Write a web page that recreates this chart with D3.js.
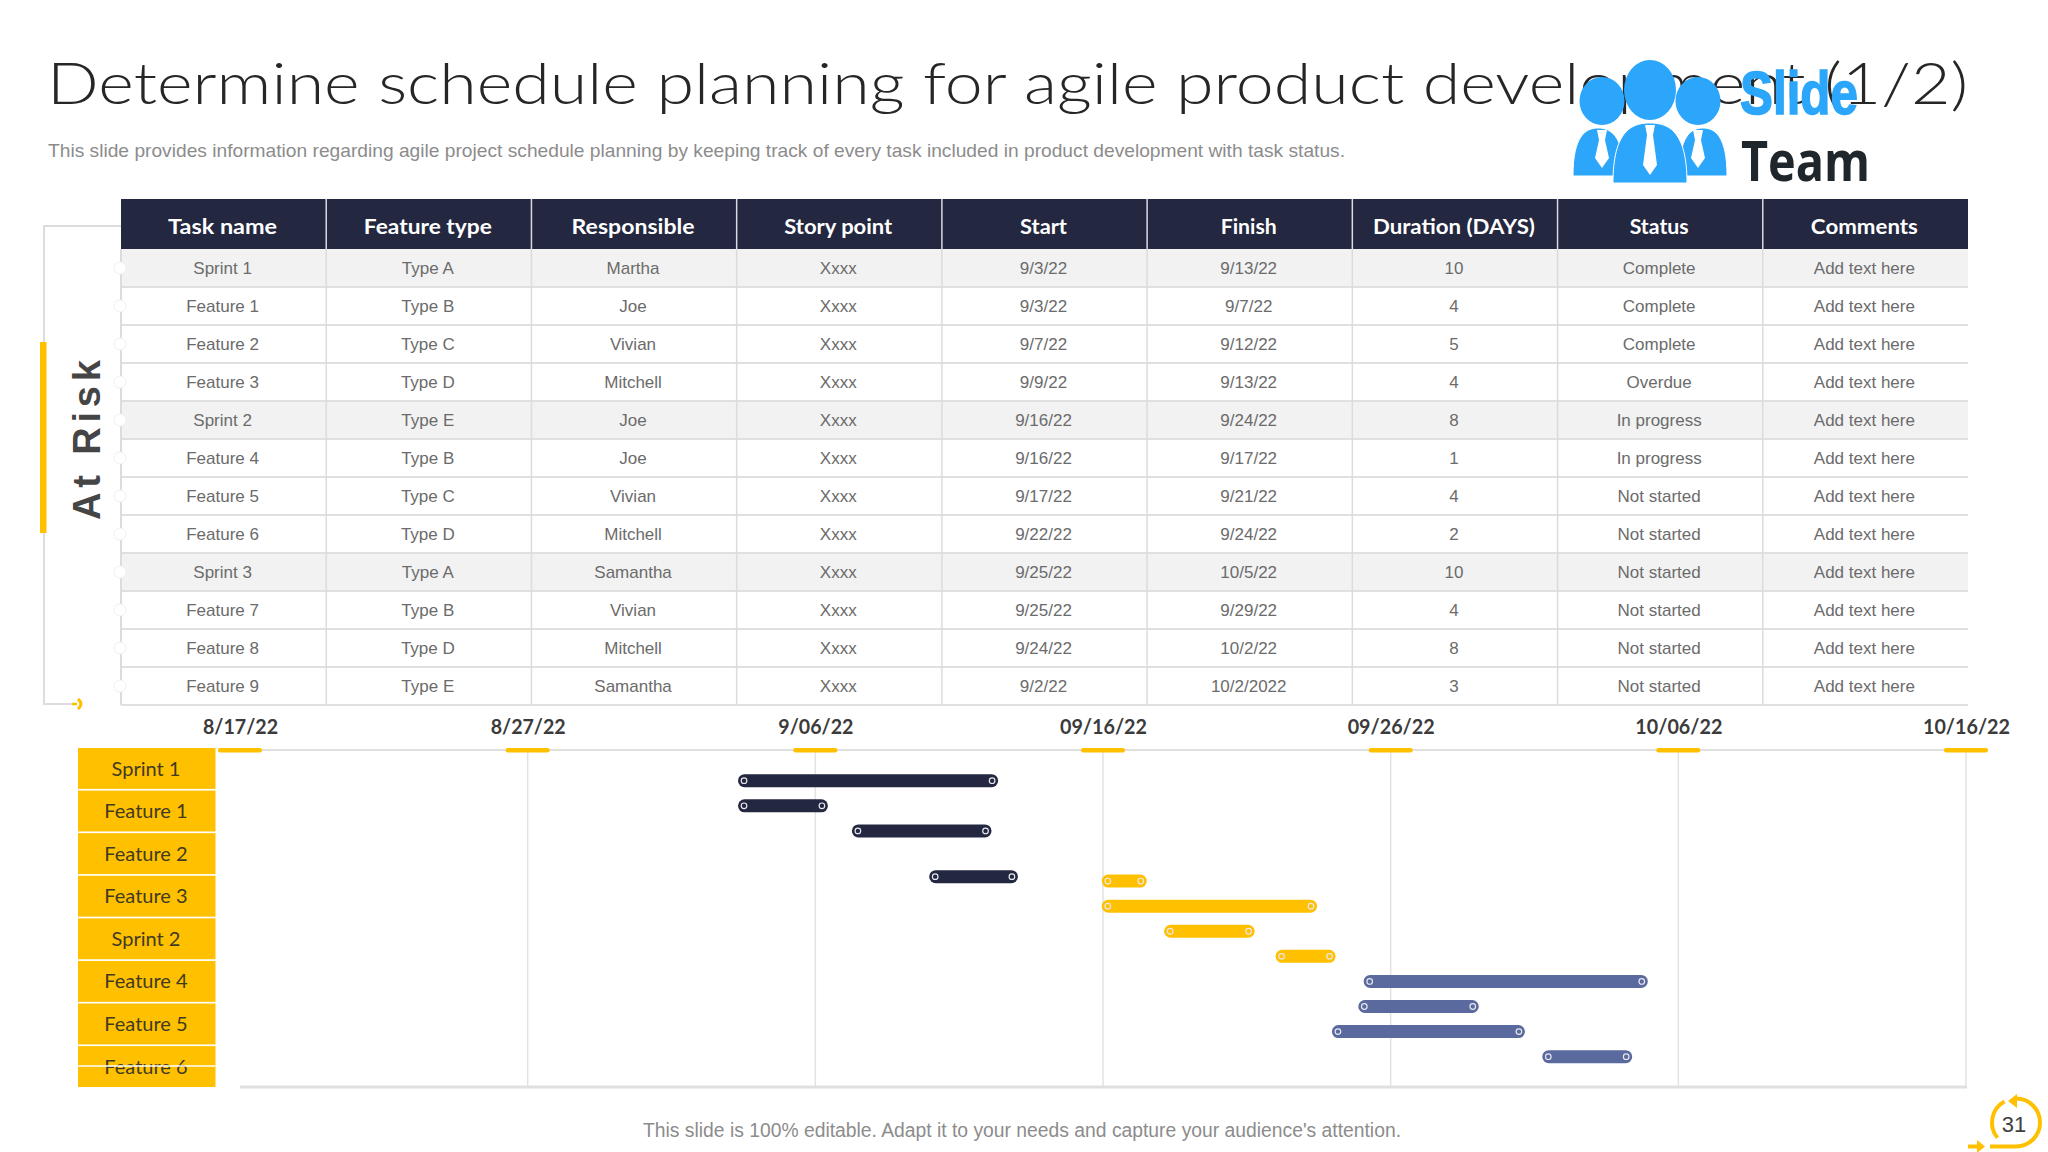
<!DOCTYPE html>
<html>
<head>
<meta charset="utf-8">
<title>Schedule planning</title>
<script src="https://cdn.jsdelivr.net/npm/d3@7"></script>
<style>
  body { margin: 0; background: #fff; }
  svg { display: block; }
  text { font-family: "Liberation Sans", sans-serif; }
</style>
</head>
<body>
<svg id="chart" width="2048" height="1152"></svg>
<script>
// Table columns
let headers = ['Task name', 'Feature type', 'Responsible', 'Story point', 'Start', 'Finish', 'Duration (DAYS)', 'Status', 'Comments'];
let tasks = ['Sprint 1', 'Feature 1', 'Feature 2', 'Feature 3', 'Sprint 2', 'Feature 4', 'Feature 5', 'Feature 6', 'Sprint 3', 'Feature 7', 'Feature 8', 'Feature 9'];
let featureTypes = ['Type A', 'Type B', 'Type C', 'Type D', 'Type E', 'Type B', 'Type C', 'Type D', 'Type A', 'Type B', 'Type D', 'Type E'];
let responsible = ['Martha', 'Joe', 'Vivian', 'Mitchell', 'Joe', 'Joe', 'Vivian', 'Mitchell', 'Samantha', 'Vivian', 'Mitchell', 'Samantha'];
let storyPoints = ['Xxxx', 'Xxxx', 'Xxxx', 'Xxxx', 'Xxxx', 'Xxxx', 'Xxxx', 'Xxxx', 'Xxxx', 'Xxxx', 'Xxxx', 'Xxxx'];
let startDates = ['9/3/22', '9/3/22', '9/7/22', '9/9/22', '9/16/22', '9/16/22', '9/17/22', '9/22/22', '9/25/22', '9/25/22', '9/24/22', '9/2/22'];
let finishDates = ['9/13/22', '9/7/22', '9/12/22', '9/13/22', '9/24/22', '9/17/22', '9/21/22', '9/24/22', '10/5/22', '9/29/22', '10/2/22', '10/2/2022'];
let durations = [10, 4, 5, 4, 8, 1, 4, 2, 10, 4, 8, 3];
let statuses = ['Complete', 'Complete', 'Complete', 'Overdue', 'In progress', 'In progress', 'Not started', 'Not started', 'Not started', 'Not started', 'Not started', 'Not started'];
let comments = tasks.map(() => 'Add text here');

// Gantt
let tickDates = ['2022-08-17', '2022-08-27', '2022-09-06', '2022-09-16', '2022-09-26', '2022-10-06', '2022-10-16'];
let tickLabels = ['8/17/22', '8/27/22', '9/06/22', '09/16/22', '09/26/22', '10/06/22', '10/16/22'];
let ganttLabels = ['Sprint 1', 'Feature 1', 'Feature 2', 'Feature 3', 'Sprint 2', 'Feature 4', 'Feature 5', 'Feature 6'];
let barStarts = ['2022-09-03 07:30', '2022-09-03 07:30', '2022-09-07 06:30', '2022-09-09 23:00', '2022-09-15 23:00', '2022-09-15 23:00', '2022-09-18 03:00', '2022-09-22 00:00', '2022-09-25 01:30', '2022-09-24 21:00', '2022-09-23 23:00', '2022-10-01 06:30'];
let barEnds = ['2022-09-12 08:30', '2022-09-06 10:30', '2022-09-12 03:00', '2022-09-13 01:00', '2022-09-17 12:30', '2022-09-23 10:30', '2022-09-21 06:30', '2022-09-24 02:00', '2022-10-04 22:30', '2022-09-29 01:30', '2022-09-30 16:00', '2022-10-04 09:30'];
let barSprints = ['Sprint 1', 'Sprint 1', 'Sprint 1', 'Sprint 1', 'Sprint 2', 'Sprint 2', 'Sprint 2', 'Sprint 2', 'Sprint 3', 'Sprint 3', 'Sprint 3', 'Sprint 3'];

const NAVY = '#232740';
const YELLOW = '#FFC000';
const SLATE = '#5B6A9E';
const BLUE = '#2BA6FA';
const HEAD_FONT = 'Lato, sans-serif';

let svg = d3.select('#chart');

// text squeezed or stretched to the width it has in the slide
function fitted(parent, str, x, y, size, width) {
    return parent.append('text')
        .attr('x', x)
        .attr('y', y)
        .attr('font-size', size)
        .attr('textLength', width)
        .attr('lengthAdjust', 'spacingAndGlyphs')
        .attr('dominant-baseline', 'middle')
        .text(str);
}

// Title
fitted(svg, 'Determine schedule planning for agile product development (1/2)', 47, 90, 58, 1921)
    .attr('font-family', HEAD_FONT)
    .style('font-family', HEAD_FONT)
    .attr('font-weight', 300)
    .attr('fill', '#262626');

fitted(svg, 'This slide provides information regarding agile project schedule planning by keeping track of every  task included in product development with task status.', 48, 152, 19, 1297)
    .attr('fill', '#8c8c8c');

// At Risk bracket
svg.append('path')
    .attr('d', 'M121,226H44V704H72')
    .attr('fill', 'none')
    .attr('stroke', '#dcdcdc')
    .attr('stroke-width', 2);
svg.append('rect').attr('x', 40).attr('y', 342).attr('width', 6.5).attr('height', 191).attr('fill', YELLOW);
svg.append('text')
    .attr('transform', 'translate(100,520) rotate(-90)')
    .attr('font-size', 38)
    .attr('font-weight', 700)
    .attr('textLength', 160)
    .attr('fill', '#454545')
    .text('At Risk');
svg.append('path').attr('d', 'M72,704H77').attr('stroke', YELLOW).attr('stroke-width', 2.5);
svg.append('path').attr('d', 'M78,699Q84,704 78,709').attr('fill', 'none').attr('stroke', YELLOW).attr('stroke-width', 3);

// Table
let columnValues = [tasks, featureTypes, responsible, storyPoints, startDates, finishDates, durations, statuses, comments];
let colX = d3.scaleBand().domain(headers).range([121, 1968]);
let rowY = d3.scaleBand().domain(d3.range(tasks.length)).range([249, 705]);
let table = svg.append('g');

table.selectAll('.stripe')
    .data(tasks.filter(t => t.startsWith('Sprint')))
    .join('rect')
    .attr('class', 'stripe')
    .attr('x', 121)
    .attr('y', t => rowY(tasks.indexOf(t)))
    .attr('width', 1847)
    .attr('height', rowY.bandwidth())
    .attr('fill', '#f2f2f2');

table.selectAll('.rowline')
    .data(d3.range(1, tasks.length + 1))
    .join('line')
    .attr('class', 'rowline')
    .attr('x1', 121)
    .attr('x2', 1968)
    .attr('y1', i => rowY.range()[0] + i * rowY.step())
    .attr('y2', i => rowY.range()[0] + i * rowY.step())
    .attr('stroke', '#e0e0e0')
    .attr('stroke-width', 2);

table.selectAll('.colline')
    .data(headers.slice(0, 8))
    .join('line')
    .attr('class', 'colline')
    .attr('x1', h => colX(h) + colX.bandwidth())
    .attr('x2', h => colX(h) + colX.bandwidth())
    .attr('y1', 249)
    .attr('y2', 705)
    .attr('stroke', '#dcdcdf')
    .attr('stroke-width', 1.5);

table.append('line')
    .attr('x1', 121).attr('x2', 121).attr('y1', 249).attr('y2', 705)
    .attr('stroke', '#dcdcdc').attr('stroke-width', 2);

// little white knobs on the left edge of the rows
table.selectAll('.knob')
    .data(tasks)
    .join('circle')
    .attr('class', 'knob')
    .attr('cx', 120)
    .attr('cy', (t, i) => rowY(i) + rowY.bandwidth() / 2)
    .attr('r', 6)
    .attr('fill', '#fff')
    .attr('stroke', '#f0f0f0');

table.append('rect').attr('x', 121).attr('y', 199).attr('width', 1847).attr('height', 50).attr('fill', NAVY);

table.selectAll('.headline')
    .data(headers.slice(0, 8))
    .join('line')
    .attr('class', 'headline')
    .attr('x1', h => colX(h) + colX.bandwidth())
    .attr('x2', h => colX(h) + colX.bandwidth())
    .attr('y1', 199)
    .attr('y2', 249)
    .attr('stroke', '#d8dae6')
    .attr('stroke-width', 1.5);

let headWidths = [109, 128, 123, 108, 47, 56, 162, 59, 107];

table.selectAll('.head')
    .data(headers)
    .join('text')
    .attr('class', 'head')
    .attr('x', h => colX(h) + colX.bandwidth() / 2 - 1)
    .attr('y', 228)
    .attr('text-anchor', 'middle')
    .attr('dominant-baseline', 'middle')
    .style('font-family', HEAD_FONT)
    .attr('font-size', 21.5)
    .attr('font-weight', 700)
    .attr('textLength', (h, i) => headWidths[i])
    .attr('lengthAdjust', 'spacingAndGlyphs')
    .attr('fill', '#fff')
    .text(h => h);

headers.forEach((h, c) => {
    table.selectAll('.col' + c)
        .data(columnValues[c])
        .join('text')
        .attr('class', 'col' + c)
        .attr('x', colX(h) + colX.bandwidth() / 2 - 1)
        .attr('y', (v, i) => rowY(i) + rowY.bandwidth() / 2 + 2)
        .attr('text-anchor', 'middle')
        .attr('dominant-baseline', 'middle')
        .attr('font-size', 17)
        .attr('fill', '#6b6b6b')
        .text(v => v);
});

// Gantt
let parseDay = d3.timeParse('%Y-%m-%d');
let parseHour = d3.timeParse('%Y-%m-%d %H:%M');
let x = d3.scaleTime()
    .domain([parseDay(tickDates[0]), parseDay(tickDates[tickDates.length - 1])])
    .range([240, 1966]);
let y = d3.scalePoint().domain(tasks).range([780.7, 1056.7]);
let sprintColor = d3.scaleOrdinal().domain(['Sprint 1', 'Sprint 2', 'Sprint 3']).range([NAVY, YELLOW, SLATE]);
let ganttTop = 749;
let ganttBottom = 1087;

let xAxis = d3.axisTop(x)
    .tickValues(tickDates.map(d => parseDay(d)))
    .tickFormat((d, i) => tickLabels[i])
    .tickSize(0)
    .tickPadding(15);

let axisG = svg.append('g')
    .attr('transform', 'translate(0,' + ganttTop + ')')
    .call(xAxis);
axisG.select('.domain').remove();
axisG.selectAll('text')
    .style('font-family', HEAD_FONT)
    .attr('font-size', 20.5)
    .attr('font-weight', 700)
    .attr('textLength', (d, i) => i < 3 ? 75 : 87)
    .attr('lengthAdjust', 'spacingAndGlyphs')
    .attr('fill', '#3b3b3b');

svg.append('line')
    .attr('x1', 218).attr('x2', 1968).attr('y1', ganttTop + 1).attr('y2', ganttTop + 1)
    .attr('stroke', '#e0e0e0').attr('stroke-width', 2);

svg.selectAll('.grid')
    .data(tickDates.slice(1))
    .join('line')
    .attr('class', 'grid')
    .attr('x1', d => x(parseDay(d)))
    .attr('x2', d => x(parseDay(d)))
    .attr('y1', ganttTop)
    .attr('y2', ganttBottom)
    .attr('stroke', '#e2e2e6')
    .attr('stroke-width', 1.5);

svg.append('line')
    .attr('x1', 240).attr('x2', 1967).attr('y1', ganttBottom).attr('y2', ganttBottom)
    .attr('stroke', '#e0e0e0').attr('stroke-width', 3);

svg.selectAll('.tickmark')
    .data(tickDates)
    .join('rect')
    .attr('class', 'tickmark')
    .attr('x', d => x(parseDay(d)) - 22)
    .attr('y', ganttTop - 1)
    .attr('width', 44)
    .attr('height', 4.5)
    .attr('rx', 2)
    .attr('fill', YELLOW);

// Feature 3 sits lower than its row in the slide
let rowNudge = { 'Feature 3': 20.7 };
let barY = t => y(t) + (rowNudge[t] || 0);
let barH = 13;

let bars = svg.selectAll('.bar')
    .data(tasks)
    .join('g')
    .attr('class', 'bar');

bars.append('rect')
    .attr('x', (t, i) => x(parseHour(barStarts[i])))
    .attr('y', t => barY(t) - barH / 2)
    .attr('width', (t, i) => x(parseHour(barEnds[i])) - x(parseHour(barStarts[i])))
    .attr('height', barH)
    .attr('rx', barH / 2)
    .attr('fill', (t, i) => sprintColor(barSprints[i]));

bars.append('circle')
    .attr('cx', (t, i) => x(parseHour(barStarts[i])) + 6)
    .attr('cy', barY)
    .attr('r', 2.8)
    .attr('fill', (t, i) => sprintColor(barSprints[i]))
    .attr('stroke', '#e8e8ee')
    .attr('stroke-width', 1.2);

bars.append('circle')
    .attr('cx', (t, i) => x(parseHour(barEnds[i])) - 6)
    .attr('cy', barY)
    .attr('r', 2.8)
    .attr('fill', (t, i) => sprintColor(barSprints[i]))
    .attr('stroke', '#e8e8ee')
    .attr('stroke-width', 1.2);

// Yellow label column
let labelY = d3.scaleBand().domain(ganttLabels).range([748, 1087]).paddingInner(0.04).paddingOuter(0);

svg.selectAll('.labelbox')
    .data(ganttLabels)
    .join('rect')
    .attr('class', 'labelbox')
    .attr('x', 78)
    .attr('y', d => labelY(d))
    .attr('width', 137.5)
    .attr('height', labelY.bandwidth())
    .attr('fill', YELLOW);

svg.selectAll('.labeltext')
    .data(ganttLabels)
    .join('text')
    .attr('class', 'labeltext')
    .attr('x', 146)
    .attr('y', d => labelY(d) + labelY.bandwidth() / 2 + 2)
    .attr('text-anchor', 'middle')
    .attr('dominant-baseline', 'middle')
    .style('font-family', HEAD_FONT)
    .attr('font-size', 20)
    .attr('fill', '#413a22')
    .text(d => d);

// white seam through the last label
svg.append('line')
    .attr('x1', 78).attr('x2', 215.5).attr('y1', 1066).attr('y2', 1066)
    .attr('stroke', '#fff').attr('stroke-width', 1.5);

// Footer
fitted(svg, "This slide is 100% editable. Adapt it to your needs and capture your audience's attention.", 643, 1132, 20, 758)
    .attr('fill', '#8c8c8c');

// Page number badge
let badge = svg.append('g').attr('fill', 'none').attr('stroke', YELLOW).attr('stroke-width', 4);
let arcPath = d3.path();
arcPath.moveTo(1990, 1146.5);
arcPath.lineTo(2016, 1146.5);
arcPath.arc(2016, 1122.5, 24, Math.PI / 2, -Math.PI / 2, true);
badge.append('path').attr('d', arcPath.toString());
let arcBack = d3.path();
arcBack.arc(2016, 1122.5, 24, -Math.PI * 0.66, Math.PI * 0.78, true);
badge.append('path').attr('d', arcBack.toString());
svg.append('path').attr('d', 'M2017,1094V1108L2008,1101Z').attr('fill', YELLOW);
svg.append('path').attr('d', 'M1968,1146.5H1980').attr('stroke', YELLOW).attr('stroke-width', 4);
svg.append('path').attr('d', 'M1977,1140L1985,1146.5L1977,1153Z').attr('fill', YELLOW);
svg.append('text')
    .attr('x', 2014).attr('y', 1126)
    .attr('text-anchor', 'middle')
    .attr('dominant-baseline', 'middle')
    .attr('font-size', 22)
    .attr('fill', '#404040')
    .text('31');

// Logo
let logo = svg.append('g');
function person(cx, headX, headY, headRx, headRy, left, right, top, bottom) {
    logo.append('ellipse').attr('cx', headX).attr('cy', headY).attr('rx', headRx).attr('ry', headRy).attr('fill', BLUE);
    logo.append('path')
        .attr('d', `M${left},${bottom}C${left},${top + 8} ${(left + cx) / 2},${top} ${cx},${top}C${(right + cx) / 2},${top} ${right},${top + 8} ${right},${bottom}Z`)
        .attr('fill', BLUE)
        .attr('stroke', '#fff')
        .attr('stroke-width', 1);
    logo.append('path')
        .attr('d', `M${headX - 5},${top + 2}H${headX + 5}L${headX + 3},${top + 12}L${headX + 7},${bottom - 18}L${headX},${bottom - 8}L${headX - 7},${bottom - 18}L${headX - 3},${top + 12}Z`)
        .attr('fill', '#fff');
}
person(1598, 1602, 101, 22.5, 24, 1573, 1624, 128, 176);
person(1703, 1698, 101, 22.5, 24, 1679, 1727, 128, 176);
person(1650, 1650, 90, 26, 30, 1613, 1687, 123, 183);

fitted(logo, 'Slide', 1740, 98, 62, 118)
    .style('font-family', 'Liberation Sans')
    .attr('font-weight', 700)
    .attr('stroke', BLUE)
    .attr('stroke-width', 1.5)
    .attr('fill', BLUE);
fitted(logo, 'Team', 1741, 166, 56, 129)
    .style('font-family', 'Open Sans')
    .attr('font-weight', 700)
    .attr('fill', '#20272c');
</script>
</body>
</html>
